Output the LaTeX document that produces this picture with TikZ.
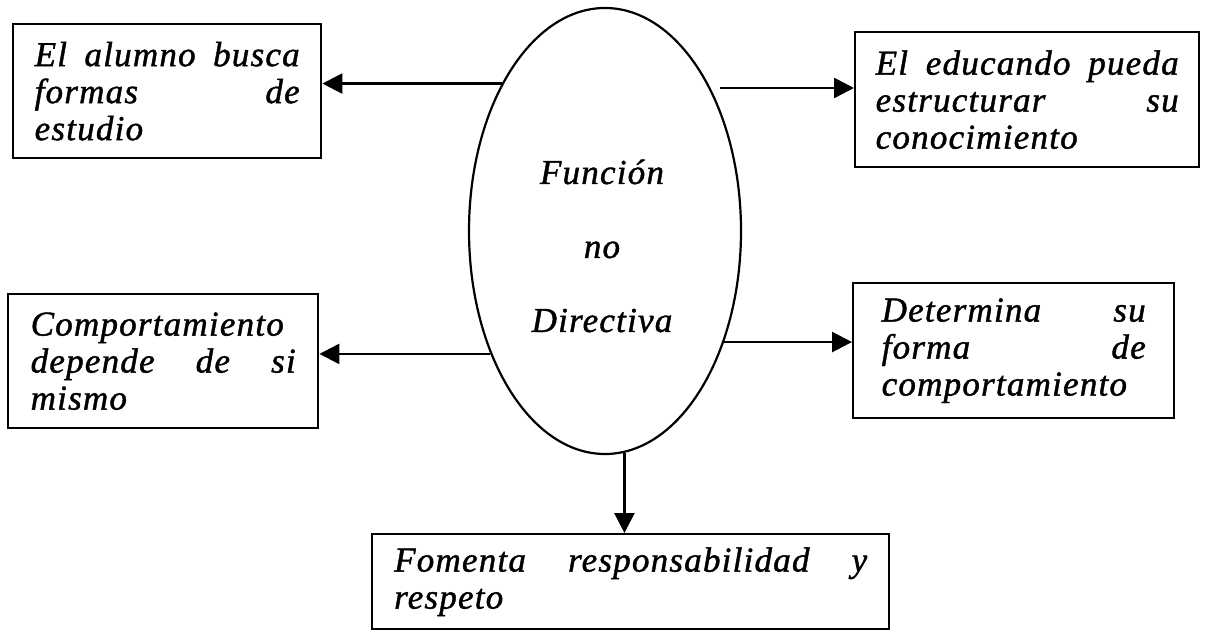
\documentclass[tikz,border=0pt]{standalone}
\usepackage{fontspec}
\setmainfont{Liberation Serif}[LetterSpace=3.5, ItalicFeatures={FakeBold=1.2}]
\usetikzlibrary{shapes.geometric,arrows.meta}
\begin{document}
\begin{tikzpicture}[x=0.5pt,y=-0.5pt,
  txt/.style={font=\fontsize{17.5pt}{18.5pt}\selectfont\itshape},
  box/.style={txt, draw, line width=1.2pt, rectangle, inner sep=0pt, anchor=north west, align=left},
  conn/.style={line width=1.3pt, -{Triangle[length=10pt,width=10pt]}}
]
\useasboundingbox (0,0) rectangle (1208,630);
% central ellipse
\node[draw, ellipse, line width=1.1pt, minimum width=136pt, minimum height=223pt, inner sep=0pt] (fn) at (605,231) {};
\node[txt, align=center] (fnt) at (602,246) {Función\\[18.5pt]no\\[18.5pt]Directiva};
% boxes
\node[box, minimum width=154pt, minimum height=67pt, text width=132.5pt] (tl) at (12,23)
  {El\hfill alumno\hfill busca\\ formas\hfill de\\ estudio};
\node[box, minimum width=172pt, minimum height=67.5pt, text width=151.5pt] (tr) at (854,31)
  {El\hfill educando\hfill pueda\\ estructurar\hfill su\\ conocimiento};
\node[box, minimum width=155pt, minimum height=67pt, text width=132.5pt] (ml) at (7,293)
  {Comportamiento\\ depende\hfill de\hfill si\\ mismo};
\node[box, minimum width=160.5pt, minimum height=67.5pt, text width=132pt] (mr) at (852,282)
  {Determina\hfill su\\ forma\hfill de\\ comportamiento};
\node[box, minimum width=258.5pt, minimum height=47.5pt, text width=236.5pt] (bb) at (371,533)
  {Fomenta\hfill responsabilidad\hfill y\\ respeto};
% connectors
\coordinate (trs) at (720,88);
\draw[conn] (fn.125.15) -- (fn.125.15 -| tl.east);
\draw[conn] (trs) -- (trs -| tr.west);
\draw[conn] (fn.227.7) -- (fn.227.7 -| ml.east);
\draw[conn] (fn.317.4) -- (fn.317.4 -| mr.west);
\draw[conn] (fn.-85.6) -- (fn.-85.6 |- bb.north);
\end{tikzpicture}
\end{document}
